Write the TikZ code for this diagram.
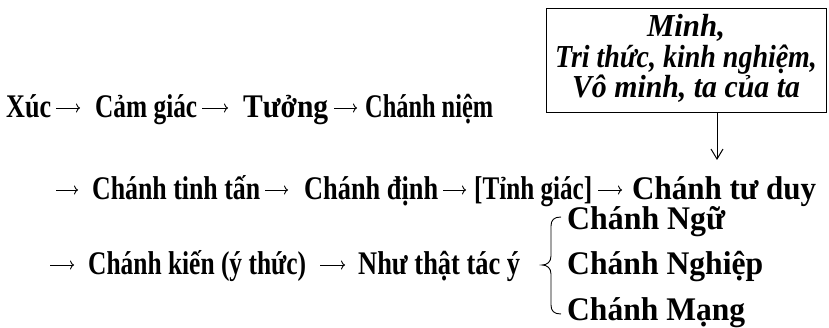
\documentclass[tikz,border=0pt]{standalone}
\usepackage{fontspec}
\setmainfont{Liberation Serif}
\usetikzlibrary{arrows.meta}
\newcommand\fitw[2]{\sbox0{#2}\scalebox{\fpeval{#1/\wd0}}[1]{\usebox0}}
\begin{document}
\begin{tikzpicture}[x=1pt,y=-1pt,
  term/.style={inner sep=0pt, anchor=base west, font=\fontsize{33}{33}\selectfont\bfseries},
  boxline/.style={inner sep=0pt, anchor=base, font=\fontsize{32}{32}\selectfont\bfseries\itshape},
  tarrow/.style={line width=0.9pt, -{To[length=4pt,width=9pt]}},
  bracestyle/.style={line width=0.9pt},
  framebox/.style={draw, line width=1.3pt, inner sep=0pt, minimum width=280pt, minimum height=104pt, anchor=north west},
  downarrow/.style={line width=1pt, -{Straight Barb[length=10pt,width=12pt]}}]
\useasboundingbox (0,0) rectangle (829,328);

% line 1
\node[term] (xuc) at (6,118) {\fitw{45}{Xúc}};
\node[term] (camgiac) at (95,118) {\fitw{102}{Cảm giác}};
\node[term] (tuong) at (243,118) {\fitw{85}{Tưởng}};
\node[term] (chanhniem) at (365,118) {\fitw{128}{Chánh niệm}};
\draw[tarrow] ([xshift=5pt,yshift=10pt]xuc.base east) -- ([xshift=-15pt,yshift=10pt]camgiac.base west);
\draw[tarrow] ([xshift=5pt,yshift=10pt]camgiac.base east) -- ([xshift=-15pt,yshift=10pt]tuong.base west);
\draw[tarrow] ([xshift=6pt,yshift=10pt]tuong.base east) -- ([xshift=-8pt,yshift=10pt]chanhniem.base west);

% line 2
\coordinate (l2start) at (56,190);
\node[term] (tinhtan) at (92,200) {\fitw{168}{Chánh tinh tấn}};
\node[term] (dinh) at (304,200) {\fitw{134}{Chánh định}};
\node[term] (tinhgiac) at (474,200) {\fitw{118}{[Tỉnh giác]}};
\node[term] (tuduy) at (632,200) {\fitw{184}{Chánh tư duy}};
\draw[tarrow] (l2start) -- ([xshift=-14pt,yshift=10pt]tinhtan.base west);
\draw[tarrow] ([xshift=5pt,yshift=10pt]tinhtan.base east) -- ([xshift=-16pt,yshift=10pt]dinh.base west);
\draw[tarrow] ([xshift=5pt,yshift=10pt]dinh.base east) -- ([xshift=-8pt,yshift=10pt]tinhgiac.base west);
\draw[tarrow] ([xshift=6pt,yshift=10pt]tinhgiac.base east) -- ([xshift=-10pt,yshift=10pt]tuduy.base west);

% line 3
\coordinate (l3start) at (50,265);
\node[term] (chanhkien) at (88,275) {\fitw{218}{Chánh kiến (ý thức)}};
\node[term] (nhuthat) at (358,275) {\fitw{162}{Như thật tác ý}};
\draw[tarrow] (l3start) -- ([xshift=-14pt,yshift=10pt]chanhkien.base west);
\draw[tarrow] ([xshift=14pt,yshift=10pt]chanhkien.base east) -- ([xshift=-13pt,yshift=10pt]nhuthat.base west);

% brace and branches
\draw[bracestyle] (561,217) .. controls (554,217) and (551,220) .. (551,226) -- (551,256)
  .. controls (551,262) and (547,265) .. (542,265)
  .. controls (547,265) and (551,268) .. (551,274) -- (551,305)
  .. controls (551,311) and (554,314) .. (561,314);
\node[term] (ngu) at (567,230) {\fitw{158}{Chánh Ngữ}};
\node[term] (nghiep) at (567,275) {\fitw{196}{Chánh Nghiệp}};
\node[term] (mang) at (567,320) {\fitw{178}{Chánh Mạng}};

% box
\node[framebox] (box) at (546,8) {};
\node[boxline] (b1) at (686,37) {\fitw{78}{Minh,}};
\node[boxline] (b2) at (686,68) {\fitw{262}{Tri thức, kinh nghiệm,}};
\node[boxline] (b3) at (686,98) {\fitw{228}{Vô minh, ta của ta}};
\coordinate (boxarrowend) at (717,160);
\draw[downarrow] (box.south -| boxarrowend) -- (boxarrowend);
\end{tikzpicture}
\end{document}
